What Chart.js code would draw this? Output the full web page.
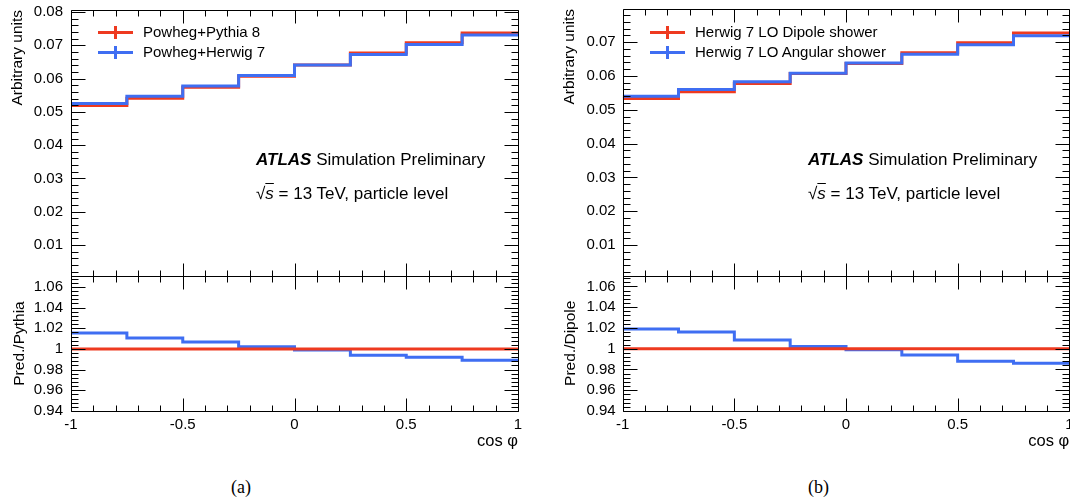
<!DOCTYPE html>
<html>
<head>
<meta charset="utf-8">
<script src="https://cdn.jsdelivr.net/npm/chart.js@4.4.1/dist/chart.umd.min.js"></script>
<style>
  body { margin: 0; width: 1070px; height: 503px; overflow: hidden; background: #fff; position: relative;
         font-family: 'Liberation Sans', Arial, Helvetica, sans-serif; color: #000; }
  canvas { position: absolute; top: 0; }
  .row { position: absolute; height: 20px; font-size: 15px; line-height: 20px; white-space: nowrap; }
  .row .mk { position: absolute; left: 0; top: 8.5px; width: 35px; height: 3px; }
  .row .mk::after { content: ''; position: absolute; left: 16px; top: -5px; width: 3px; height: 13px; background: inherit; }
  .row span { position: absolute; left: 45px; top: 0; }
  .atlas { position: absolute; font-size: 17px; line-height: 17px; white-space: nowrap; }
  .atlas b { font-style: italic; }
  .cap { position: absolute; top: 478px; font-family: 'Liberation Serif', 'Times New Roman', serif; font-size: 18px; line-height: 18px; }
</style>
</head>
<body>
<canvas id="chartA" width="535" height="460" style="left:0"></canvas>
<canvas id="chartB" width="560" height="460" style="left:535px"></canvas>

<div class="row" style="left:98px;top:22px"><i class="mk" style="background:#ee3a20"></i><span>Powheg+Pythia 8</span></div>
<div class="row" style="left:98px;top:42px"><i class="mk" style="background:#3f6ef2"></i><span>Powheg+Herwig 7</span></div>
<div class="atlas" style="left:256px;top:151px"><b>ATLAS</b> Simulation Preliminary</div>
<div class="atlas" style="left:256px;top:185px">√<i style="text-decoration:overline">s</i> = 13 TeV, particle level</div>

<div class="row" style="left:650px;top:22px"><i class="mk" style="background:#ee3a20"></i><span>Herwig 7 LO Dipole shower</span></div>
<div class="row" style="left:650px;top:42px"><i class="mk" style="background:#3f6ef2"></i><span>Herwig 7 LO Angular shower</span></div>
<div class="atlas" style="left:808px;top:151px"><b>ATLAS</b> Simulation Preliminary</div>
<div class="atlas" style="left:808px;top:185px">√<i style="text-decoration:overline">s</i> = 13 TeV, particle level</div>

<div class="cap" style="left:231px">(a)</div>
<div class="cap" style="left:808px">(b)</div>

<script>
// bin edges in cos(phi)
const binEdges = [-1, -0.75, -0.5, -0.25, 0, 0.25, 0.5, 0.75, 1];

// (a) Powheg + Pythia 8 vs Powheg + Herwig 7
const pythia8 = [0.0519, 0.0541, 0.0574, 0.0607, 0.0641, 0.0677, 0.0708, 0.0737];
const herwig7 = [0.0525, 0.0547, 0.0578, 0.0609, 0.0641, 0.0672, 0.0702, 0.0731];
const ratioA  = [1.0155, 1.0106, 1.0068, 1.002, 0.999, 0.994, 0.992, 0.989];

// (b) Herwig 7 LO dipole vs angular shower
const dipole  = [0.0533, 0.0553, 0.0578, 0.0607, 0.0637, 0.0669, 0.0698, 0.0727];
const angular = [0.0540, 0.0560, 0.0583, 0.0608, 0.0638, 0.0664, 0.0692, 0.0719];
const ratioB  = [1.019, 1.016, 1.0084, 1.002, 0.999, 0.994, 0.988, 0.986];

const refRatio = [1, 1, 1, 1, 1, 1, 1, 1];

// tick labels
const xTicks     = [-1, -0.5, 0, 0.5, 1];
const mainTicks  = [0.01, 0.02, 0.03, 0.04, 0.05, 0.06, 0.07, 0.08];
const ratioTicks = [0.94, 0.96, 0.98, 1, 1.02, 1.04, 1.06];

const RED = '#ee3a20';
const BLUE = '#3f6ef2';
const FONT = "'Liberation Sans', Arial, Helvetica, sans-serif";

function steps(vals) {
  return binEdges.map((x, i) => ({ x: x, y: vals[Math.min(i, vals.length - 1)] }));
}

function fmt(v) { return String(+(+v).toFixed(3)); }

function setTicks(list) {
  return s => { s.ticks = list.filter(v => v >= s.min - 1e-9 && v <= s.max + 1e-9).map(v => ({ value: v })); };
}

function noPad(w) {
  return s => {
    if (w) s.width = w;
    s.paddingTop = 0; s.paddingBottom = 0; s.paddingLeft = 0; s.paddingRight = 0;
  };
}

/* ======== frame + inner ticks (ROOT style) ======== */
function tickPath(ctx, x0, y0, x1, y1) {
  ctx.moveTo(x0, y0);
  ctx.lineTo(x1, y1);
}

const frame = {
  id: 'frame',
  afterDraw(chart) {
    const { ctx, chartArea: a } = chart;
    const x = chart.scales.x, ym = chart.scales.y, yr = chart.scales.yr;
    const p = v => Math.round(v) + 0.5;
    const L = p(a.left), R = p(a.right);
    ctx.save();
    ctx.strokeStyle = '#000';
    ctx.lineWidth = 1;
    ctx.beginPath();
    tickPath(ctx, L, p(a.top), R, p(a.top));
    tickPath(ctx, R, p(a.top), R, p(a.bottom));
    tickPath(ctx, R, p(a.bottom), L, p(a.bottom));
    tickPath(ctx, L, p(a.bottom), L, p(a.top));
    tickPath(ctx, L, p(ym.bottom), R, p(ym.bottom));

    for (let k = -10; k <= 10; k++) {
      const px = p(x.getPixelForValue(k / 10));
      const len = k % 5 === 0 ? 13 : 6;
      tickPath(ctx, px, p(ym.top), px, p(ym.top) + len);
      tickPath(ctx, px, p(ym.bottom), px, p(ym.bottom) - len);
      tickPath(ctx, px, p(yr.top), px, p(yr.top) + len);
      tickPath(ctx, px, p(yr.bottom), px, p(yr.bottom) - len);
    }
    for (let k = 0; k <= 41; k++) {
      const v = k * 0.002;
      if (v < ym.min || v > ym.max) continue;
      const py = p(ym.getPixelForValue(v));
      const len = k % 5 === 0 ? 14 : 7;
      tickPath(ctx, L, py, L + len, py);
      tickPath(ctx, R, py, R - len, py);
    }
    for (let k = 0; k <= 40; k++) {
      const v = 0.94 + k * 0.004;
      if (v > yr.max) break;
      const py = p(yr.getPixelForValue(v));
      const len = k % 5 === 0 ? 14 : 7;
      tickPath(ctx, L, py, L + len, py);
      tickPath(ctx, R, py, R - len, py);
    }
    ctx.stroke();
    ctx.restore();
  }
};

function makeChart(id, o) {
  const line = (data, color, axis, order) => ({
    data: steps(data), yAxisID: axis, borderColor: color, borderWidth: 3,
    pointRadius: 0, stepped: 'before', fill: false, order: order
  });
  return new Chart(document.getElementById(id), {
    type: 'line',
    data: {
      datasets: [
        line(o.ref, RED, 'y', 2),
        line(o.alt, BLUE, 'y', 1),
        line(refRatio, RED, 'yr', 1),
        line(o.ratio, BLUE, 'yr', 2)
      ]
    },
    options: {
      responsive: false,
      animation: false,
      devicePixelRatio: 1,
      layout: { padding: o.pad },
      plugins: { legend: { display: false }, tooltip: { enabled: false } },
      scales: {
        x: {
          type: 'linear', position: 'bottom', min: -1, max: 1,
          grid: { display: false, drawTicks: false }, border: { display: false },
          afterBuildTicks: setTicks(xTicks),
          afterFit: s => { s.height = 40; s.paddingLeft = 0; s.paddingRight = 0; },
          ticks: { autoSkip: false, maxRotation: 0, padding: 5, color: '#000', font: { family: FONT, size: 15 }, callback: fmt },
          title: { display: true, text: 'cos φ', align: 'end', color: '#000', padding: { top: 0, bottom: 0 }, font: { family: FONT, size: 16.5 } }
        },
        yr: {
          type: 'linear', position: 'left', stack: 'pad', stackWeight: o.wRatio,
          min: 0.94, max: 1.0705,
          grid: { display: false, drawTicks: false }, border: { display: false },
          afterBuildTicks: setTicks(ratioTicks),
          afterFit: noPad(71),
          ticks: { autoSkip: false, padding: o.tp, color: '#000', font: { family: FONT, size: 15 }, callback: fmt },
          title: { display: true, text: o.ratioTitle, align: 'center', color: '#000', padding: { top: 10, bottom: 0 }, font: { family: FONT, size: 15.5 } }
        },
        y: {
          type: 'linear', position: 'left', stack: 'pad', stackWeight: o.wMain,
          min: o.yMin, max: o.yMax,
          grid: { display: false, drawTicks: false }, border: { display: false },
          afterBuildTicks: setTicks(mainTicks),
          afterFit: noPad(71),
          ticks: { autoSkip: false, padding: o.tp, color: '#000', font: { family: FONT, size: 15 }, callback: fmt },
          title: { display: true, text: 'Arbitrary units', align: 'end', color: '#000', padding: { top: 8.5, bottom: 0 }, font: { family: FONT, size: 15.5 } }
        }
      }
    },
    plugins: [frame]
  });
}

makeChart('chartA', {
  ref: pythia8, alt: herwig7, ratio: ratioA, ratioTitle: 'Pred./Pythia',
  yMin: 0.0007, yMax: 0.0806, wMain: 266, wRatio: 135, tp: 8,
  pad: { left: 0, right: 17, top: 10, bottom: 9 }
});

makeChart('chartB', {
  ref: dipole, alt: angular, ratio: ratioB, ratioTitle: 'Pred./Dipole',
  yMin: 0.001, yMax: 0.0798, wMain: 266.5, wRatio: 135.5, tp: 7,
  pad: { left: 16.7, right: 25.7, top: 9, bottom: 9 }
});
</script>
</body>
</html>
